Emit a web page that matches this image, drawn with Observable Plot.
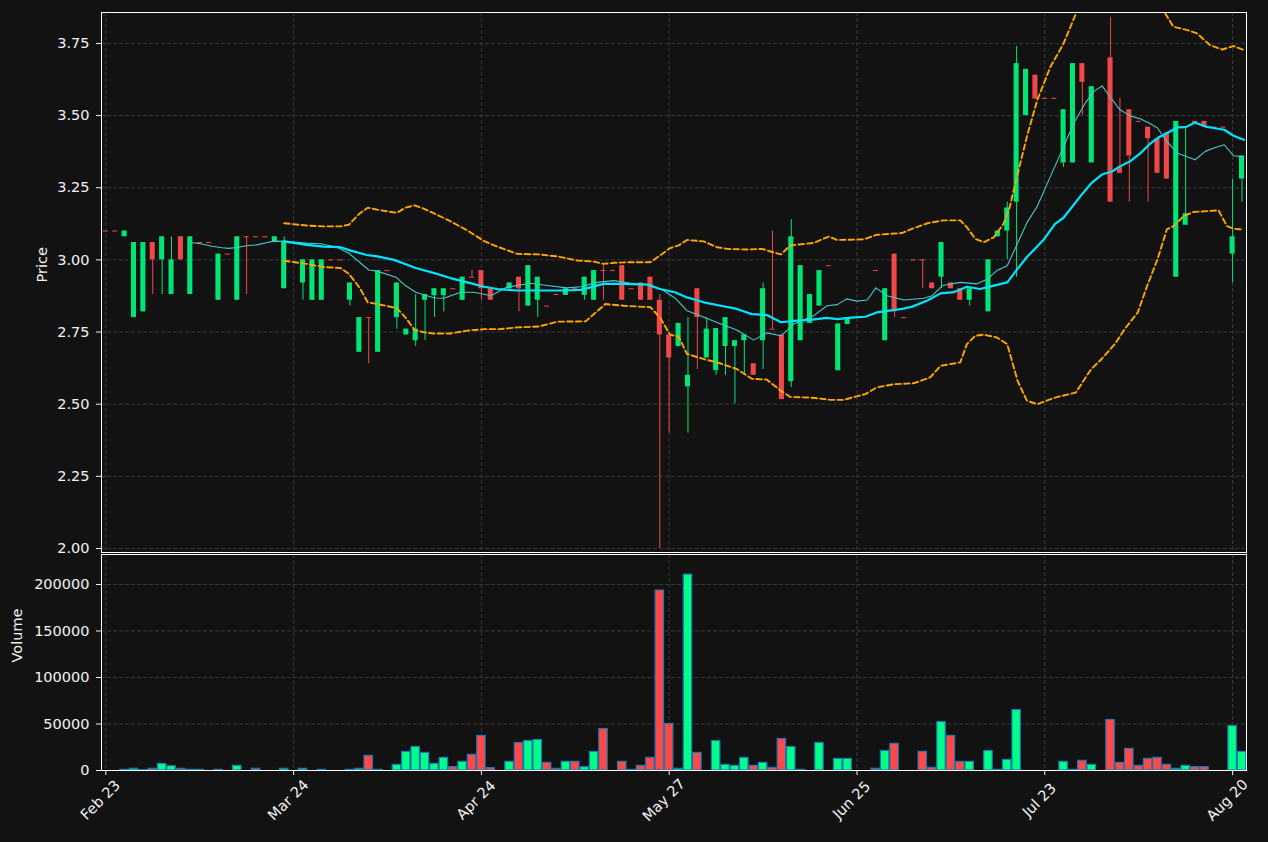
<!DOCTYPE html>
<html><head><meta charset="utf-8">
<script src="https://cdn.jsdelivr.net/npm/d3@7"></script>
<script src="https://cdn.jsdelivr.net/npm/@observablehq/plot@0.6"></script>
<style>
html,body{margin:0;padding:0;background:#121212;}
#chart{width:1268px;height:842px;background:#121212;overflow:hidden;}
#chart svg{display:block;}
</style></head><body><div id="chart"></div>
<script>
// ---- data (bar index = trading-day position) ----
const xTickIdx = [0, 20, 40, 60, 80, 100, 120];
const xTickLabels = ["Feb 23", "Mar 24", "Apr 24", "May 27", "Jun 25", "Jul 23", "Aug 20"];
const priceTicks = [2.00, 2.25, 2.50, 2.75, 3.00, 3.25, 3.50, 3.75];
const volTicks = [0, 50000, 100000, 150000, 200000];

const idx = [0,1,2,3,4,5,6,7,8,9,10,11,12,13,14,15,16,17,18,19,
  21,22,23,24,25,26,27,28,29,30,31,32,33,34,35,36,37,38,39,40,41,
  43,44,45,46,47,48,49,50,51,52,53,54,55,56,57,58,59,60,61,62,63,64,65,66,67,68,69,70,71,72,73,74,75,76,77,78,79,
  82,83,84,85,86,87,88,89,90,91,92,94,95,96,97,98,99,100,101,102,103,104,105,
  107,108,109,110,111,112,113,114,115,116,117,118,119,120,121];
const open = [3.10,3.10,3.08,2.80,2.82,3.06,3.00,2.88,3.08,2.88,3.06,3.06,2.86,3.02,2.86,3.08,3.08,3.08,3.06,2.90,
  2.92,2.86,2.86,3.00,3.00,2.86,2.68,2.80,2.68,2.963,2.80,2.74,2.72,2.86,2.876,2.876,2.90,2.86,2.94,2.963,2.90,
  2.90,2.94,2.84,2.86,2.84,2.88,2.877,2.90,2.877,2.86,2.963,2.963,2.98,2.90,2.92,2.94,2.86,2.74,2.70,2.56,2.90,2.66,2.616,2.70,2.70,2.72,2.64,2.72,2.76,2.74,2.578,2.72,2.78,2.84,2.98,2.616,2.776,
  2.963,2.72,3.02,2.80,3.00,3.00,2.92,2.94,2.92,2.90,2.86,2.82,3.08,3.10,3.20,3.50,3.64,3.56,3.56,3.336,3.336,3.68,3.336,
  3.70,3.32,3.52,3.48,3.46,3.42,3.44,2.94,3.12,3.48,3.48,3.46,3.46,3.02,3.28];
const high = [3.10,3.10,3.10,3.06,3.06,3.06,3.08,3.08,3.08,3.08,3.06,3.06,3.02,3.02,3.08,3.08,3.08,3.08,3.08,3.08,
  3.00,3.00,3.00,3.00,3.00,2.92,2.80,2.80,2.963,2.963,2.92,2.76,2.88,2.88,2.90,2.90,2.90,2.94,2.963,2.963,2.90,
  2.92,2.94,2.98,2.94,2.84,2.88,2.90,2.90,2.94,2.963,2.98,2.963,2.98,2.90,2.92,2.94,2.88,2.74,2.78,2.80,2.90,2.80,2.762,2.80,2.72,2.74,2.64,2.92,3.10,2.74,3.14,2.98,2.88,2.963,2.98,2.778,2.80,
  2.963,2.90,3.02,2.80,3.00,3.00,2.92,3.06,2.92,2.90,2.90,3.00,3.10,3.20,3.74,3.66,3.64,3.56,3.56,3.52,3.68,3.68,3.60,
  3.84,3.56,3.52,3.48,3.46,3.42,3.44,3.48,3.46,3.48,3.48,3.46,3.46,3.28,3.36];
const low = [3.10,3.10,3.08,2.80,2.82,2.88,2.88,2.88,3.00,2.88,3.06,3.06,2.86,3.02,2.86,2.88,3.08,3.08,3.06,2.90,
  2.86,2.86,2.86,3.00,3.00,2.84,2.68,2.64,2.68,2.963,2.76,2.74,2.70,2.72,2.80,2.82,2.90,2.86,2.94,2.86,2.86,
  2.90,2.82,2.84,2.80,2.84,2.88,2.877,2.90,2.86,2.86,2.86,2.963,2.86,2.90,2.86,2.86,2.00,2.40,2.70,2.40,2.62,2.66,2.60,2.60,2.50,2.60,2.60,2.62,2.76,2.516,2.558,2.72,2.78,2.84,2.98,2.616,2.776,
  2.963,2.72,2.80,2.80,3.00,2.90,2.90,2.90,2.90,2.86,2.84,2.82,3.08,3.00,2.94,3.50,3.557,3.56,3.56,3.32,3.336,3.50,3.336,
  3.20,3.30,3.20,3.48,3.20,3.30,3.28,2.94,3.12,3.475,3.46,3.46,3.46,2.92,3.20];
const close = [3.10,3.10,3.10,3.06,3.06,3.00,3.08,3.00,3.00,3.08,3.06,3.06,3.02,3.02,3.08,3.08,3.08,3.08,3.08,3.065,
  3.00,3.00,3.00,3.00,3.00,2.92,2.80,2.80,2.963,2.963,2.92,2.76,2.76,2.88,2.90,2.90,2.90,2.94,2.94,2.90,2.86,
  2.92,2.90,2.98,2.94,2.84,2.88,2.90,2.90,2.94,2.963,2.963,2.963,2.86,2.90,2.86,2.86,2.74,2.66,2.78,2.60,2.80,2.76,2.762,2.80,2.72,2.74,2.60,2.90,2.76,2.516,3.08,2.98,2.88,2.963,2.98,2.778,2.80,
  2.963,2.90,2.82,2.80,3.00,3.00,2.90,3.06,2.90,2.86,2.90,3.00,3.10,3.18,3.68,3.66,3.557,3.56,3.56,3.52,3.68,3.615,3.60,
  3.20,3.30,3.36,3.48,3.42,3.30,3.28,3.48,3.16,3.475,3.46,3.46,3.46,3.08,3.36];
const volume = [0,0,700,1800,400,1800,7100,4600,1800,700,700,0,700,0,5000,0,1800,0,0,1800,
  1800,0,700,0,0,700,1800,15700,700,0,6100,20000,25300,18900,7100,13600,3600,9300,16800,37100,2500,
  9300,29600,31800,32800,8200,1800,9300,9300,3600,20000,44600,0,9300,700,5000,13600,193500,50000,1800,210600,18900,0,31800,6100,5000,13600,5000,8200,2900,33900,25300,700,0,29600,0,12500,12500,
  1800,21000,28600,0,0,20000,2900,52100,37100,9300,9300,21000,700,11400,65000,0,0,0,0,9300,700,10400,6100,
  54300,8200,23200,5000,12500,13600,6100,1800,5000,3600,3600,0,0,47800,20000];

// indicator lines: [bar index, value]
const ma10 = [[9,3.06],[10.1,3.056],[11.3,3.047],[12.4,3.042],[13.1,3.04],[14,3.043],[15.1,3.05],[16.1,3.052],[17.2,3.06],[17.9,3.065],[19,3.064],[20,3.062],[21.4,3.058],[22.9,3.056],[24.6,3.044],[25.9,3.023],[28,2.965],[28.9,2.961],[30.9,2.94],[31.9,2.911],[33,2.888],[35,2.868],[36,2.867],[37.8,2.888],[39.2,2.888],[40.4,2.88],[41,2.876],[42.7,2.905],[45.2,2.919],[47,2.911],[49.1,2.903],[50.6,2.907],[52.3,2.922],[54.1,2.928],[55.9,2.919],[58,2.914],[59.4,2.894],[60.6,2.868],[61.9,2.824],[63.7,2.801],[65.5,2.778],[67.2,2.757],[69,2.722],[70.4,2.747],[71.9,2.737],[73.3,2.778],[75.4,2.807],[76.8,2.841],[77.9,2.845],[78.9,2.865],[80,2.857],[81.1,2.861],[82,2.903],[83.2,2.876],[85,2.861],[87.1,2.867],[88,2.876],[89.1,2.911],[91,2.922],[92.8,2.917],[93.9,2.934],[94.9,2.963],[96,2.98],[97.05,3.054],[98.1,3.129],[99.2,3.186],[100.2,3.26],[101.7,3.37],[103.1,3.474],[104.3,3.543],[105.2,3.583],[106.1,3.603],[107.2,3.554],[108,3.52],[109.1,3.499],[110.2,3.488],[111.1,3.474],[112,3.457],[113,3.411],[114.1,3.37],[115,3.359],[116,3.347],[117.1,3.376],[118,3.388],[119.1,3.399],[120.1,3.361],[121.2,3.357]];
const ma20 = [[19,3.064],[21.4,3.052],[23.2,3.046],[25,3.044],[26.1,3.032],[27.8,3.017],[28.9,3.012],[30.7,3.0],[33,2.972],[35,2.954],[36.7,2.937],[38.5,2.922],[40.3,2.907],[41.7,2.899],[43.8,2.894],[46.1,2.894],[48.8,2.894],[50.6,2.896],[53,2.917],[55.2,2.917],[57.7,2.914],[59,2.899],[60.6,2.888],[61.9,2.87],[63.7,2.853],[65.5,2.841],[67.2,2.83],[68.8,2.812],[70.4,2.809],[71.9,2.784],[73.3,2.789],[75,2.792],[76.8,2.799],[77.9,2.795],[79.7,2.801],[80.9,2.803],[82.1,2.818],[84.8,2.83],[85.9,2.838],[87.5,2.859],[88.9,2.884],[90.3,2.888],[91.7,2.907],[93.1,2.899],[94.6,2.911],[96,2.922],[97.1,2.969],[98.1,3.01],[99.9,3.071],[101.1,3.125],[102,3.146],[103.8,3.221],[105,3.267],[106.1,3.296],[107.2,3.307],[108,3.324],[109.1,3.342],[110.2,3.37],[111.1,3.399],[112,3.422],[113,3.439],[114.1,3.459],[115,3.46],[116,3.476],[117.1,3.462],[118,3.457],[119.1,3.451],[120.1,3.43],[121.2,3.416]];
const bbUpper = [[19,3.127],[21.4,3.119],[23.2,3.116],[25,3.116],[25.9,3.122],[27,3.16],[27.9,3.181],[28.9,3.174],[31,3.163],[31.9,3.181],[32.9,3.189],[33.9,3.177],[34.9,3.162],[36.7,3.134],[38.5,3.102],[40.3,3.065],[41.7,3.046],[43.8,3.021],[46.1,3.019],[48.1,3.012],[50.2,2.998],[52,2.994],[53,2.986],[54.1,2.99],[55.9,2.992],[58,2.992],[59,3.015],[60.1,3.041],[61,3.05],[61.9,3.069],[63.7,3.064],[65.1,3.044],[66.2,3.038],[68.3,3.036],[69.9,3.038],[70.8,3.029],[71.9,3.019],[72.9,3.05],[75.4,3.059],[77,3.081],[77.9,3.069],[80.7,3.071],[82.1,3.087],[84.8,3.093],[85.9,3.108],[87.5,3.127],[89.2,3.137],[91,3.137],[91.7,3.113],[92.6,3.073],[93.5,3.061],[94.6,3.079],[95.6,3.125],[96.2,3.175],[97.05,3.29],[98.1,3.428],[99.2,3.554],[100.6,3.669],[102,3.75],[103.4,3.86],[105,3.94],[107,3.99],[109,3.98],[111,3.92],[112.7,3.86],[113.7,3.808],[115.2,3.796],[116.2,3.785],[117.6,3.744],[118.9,3.729],[120.1,3.741],[121.2,3.727]];
const bbLower = [[19,2.997],[21.4,2.986],[23.2,2.975],[25,2.972],[25.9,2.951],[27,2.905],[27.9,2.853],[28.9,2.847],[31,2.833],[31.9,2.801],[32.9,2.757],[33.9,2.749],[34.9,2.745],[36.7,2.745],[38.5,2.755],[40.3,2.76],[42,2.76],[43.8,2.766],[46.1,2.769],[48.1,2.786],[51.1,2.787],[53.2,2.847],[55.2,2.841],[58,2.836],[59,2.801],[60.1,2.741],[61,2.734],[61.9,2.674],[63.7,2.656],[65.1,2.645],[67.2,2.622],[68.8,2.588],[70.4,2.585],[71.9,2.546],[72.9,2.525],[75,2.523],[77.2,2.515],[78.6,2.515],[79.7,2.525],[80.9,2.535],[82.1,2.558],[83.9,2.569],[86.1,2.573],[87.8,2.593],[88.9,2.633],[91,2.645],[91.7,2.708],[92.6,2.737],[93.5,2.741],[94.9,2.731],[96,2.708],[97.1,2.581],[98.1,2.512],[99.2,2.50],[100.2,2.512],[101.1,2.523],[102,2.53],[103.3,2.54],[104.9,2.62],[106,2.655],[107.5,2.71],[108.5,2.76],[109.9,2.818],[110.9,2.91],[112,3.002],[113,3.106],[113.7,3.117],[114.8,3.152],[115.8,3.166],[117.3,3.169],[118.5,3.172],[119.4,3.117],[120.1,3.108],[120.8,3.106],[121.2,3.105]];

// ---- styles ----
const UP = "#00e676", DOWN = "#f04848", VUP = "#00ff88", VDOWN = "#ff4848";
const GRID = "#383838", TXT = "#f2f2f2";
const FS = 14.5, FF = "DejaVu Sans";
const W = 1268, ML = 101, MR = 22;
const xDomain = [-0.458, 121.48];

const bars = idx.map((i, k) => ({i, o: open[k], h: high[k], l: low[k], c: close[k], v: volume[k], up: close[k] > open[k]}));
const pts = a => a.map(([i, v]) => ({i, v}));
const style = {background: "#121212", color: TXT, fontFamily: FF, fontSize: FS + "px", overflow: "visible"};
const bandStyle = {stroke: "#ffa500", strokeWidth: 1.9, strokeDasharray: "5.5,3.2", clip: true};

const priceChart = Plot.plot({
  width: W, height: 553, marginLeft: ML, marginRight: MR, marginTop: 12, marginBottom: 1,
  style,
  x: {domain: xDomain, axis: null},
  y: {domain: [1.9861, 3.8572], axis: null},
  marks: [
    Plot.gridY(priceTicks, {stroke: GRID, strokeOpacity: 1, strokeDasharray: "4,2"}),
    Plot.gridX(xTickIdx, {stroke: GRID, strokeOpacity: 1, strokeDasharray: "4,2"}),
    Plot.ruleX(bars, {x: "i", y1: "l", y2: "h", stroke: d => d.up ? UP : DOWN, strokeWidth: 1}),
    Plot.rect(bars.filter(d => d.o !== d.c), {x1: d => d.i - 0.27, x2: d => d.i + 0.27, y1: "o", y2: "c", fill: d => d.up ? UP : DOWN}),
    Plot.ruleY(bars.filter(d => d.o === d.c), {y: "c", x1: d => d.i - 0.27, x2: d => d.i + 0.27, stroke: DOWN, strokeWidth: 1}),
    Plot.line(pts(bbUpper), {x: "i", y: "v", ...bandStyle}),
    Plot.line(pts(bbLower), {x: "i", y: "v", ...bandStyle}),
    Plot.line(pts(ma10), {x: "i", y: "v", stroke: "#48c8c8", strokeWidth: 1.1, clip: true}),
    Plot.line(pts(ma20), {x: "i", y: "v", stroke: "#00e5ff", strokeWidth: 2.2, clip: true}),
    Plot.axisY(priceTicks, {anchor: "left", tickSize: 5, tickPadding: 7, tickFormat: d => d.toFixed(2), stroke: TXT, fill: TXT, fontSize: FS, fontFamily: FF, label: null}),
    Plot.text(["Price"], {text: d => d, frameAnchor: "left", dx: -59, rotate: -90, fill: TXT, fontSize: FS, fontFamily: FF}),
    Plot.frame({stroke: "#ffffff"})
  ]
});

const volBars = bars.filter(d => d.v > 0);
const volChart = Plot.plot({
  width: W, height: 289, marginLeft: ML, marginRight: MR, marginTop: 1, marginBottom: 72,
  style,
  x: {domain: xDomain, axis: null},
  y: {domain: [0, 232258], axis: null},
  marks: [
    Plot.gridY(volTicks, {stroke: GRID, strokeOpacity: 1, strokeDasharray: "4,2"}),
    Plot.gridX(xTickIdx, {stroke: GRID, strokeOpacity: 1, strokeDasharray: "4,2"}),
    Plot.rect(volBars, {x1: d => d.i - 0.45, x2: d => d.i + 0.45, y1: d => 0, y2: "v", fill: d => d.up ? VUP : VDOWN, stroke: "#1f77b4", strokeWidth: 1.2}),
    Plot.axisY(volTicks, {anchor: "left", tickSize: 5, tickPadding: 7, tickFormat: d => String(d), stroke: TXT, fill: TXT, fontSize: FS, fontFamily: FF, label: null}),
    Plot.axisX(xTickIdx, {anchor: "bottom", tickSize: 5, tickFormat: () => "", stroke: TXT, label: null}),
    Plot.text(xTickIdx, {x: d => d, text: (d, k) => xTickLabels[k], frameAnchor: "bottom", dy: 33, dx: -2, rotate: -45, fill: TXT, fontSize: FS, fontFamily: FF}),
    Plot.text(["Volume"], {text: d => d, frameAnchor: "left", dx: -84, rotate: -90, fill: TXT, fontSize: FS, fontFamily: FF}),
    Plot.frame({stroke: "#ffffff"})
  ]
});

const root = document.getElementById("chart");
root.appendChild(priceChart);
root.appendChild(volChart);
</script>
</body></html>
